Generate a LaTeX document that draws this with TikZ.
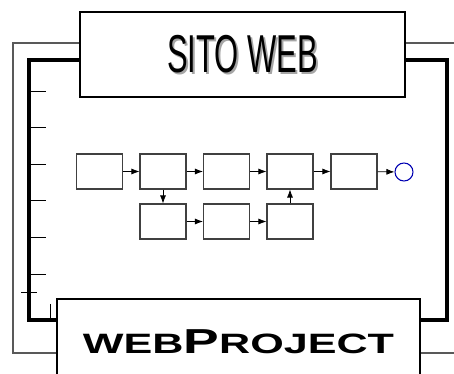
\documentclass[tikz,border=0pt]{standalone}
\usepackage{fontspec}
\setmainfont{Liberation Sans}
\usetikzlibrary{arrows.meta}
\tikzset{box/.style={draw=black!75,line width=0.8pt,minimum width=34.5pt,minimum height=26.25pt,inner sep=0pt},
flow/.style={line width=0.6pt,-{Latex[length=6pt,width=4.5pt]}},
frame/.style={draw,line width=1.6pt,inner sep=0pt}}
\begin{document}
\begin{tikzpicture}[x=0.75pt,y=-0.75pt]
\clip(0,0)rectangle(454,374);
\fill[white](0,0)rectangle(454,374);
\node[frame,fill=white,minimum width=243.75pt,minimum height=63.75pt](site)at(242.5,54.5){};
\node[text=black!35]at(244.5,56.5){\fontsize{40}{40}\selectfont\scalebox{0.58}[1]{SITO WEB}};
\node(sitetext)at(242.5,54.5){\fontsize{40}{40}\selectfont\scalebox{0.58}[1]{SITO WEB}};
\node[frame,fill=white,minimum width=272.25pt,minimum height=63.75pt](proj)at(238.5,341.5){\scalebox{1.54}[1]{\bfseries\fontsize{21}{21}\selectfont WEB\fontsize{26}{26}\selectfont P\fontsize{21}{21}\selectfont ROJECT}};
\draw[line width=1.5pt,color=black!65](site.west|-0,43)-|(13,353)--(proj.west|-0,353);
\draw[line width=1.5pt,color=black!65](site.east|-0,43)--(454,43);
\draw[line width=1.5pt,color=black!65](proj.east|-0,353)--(454,353);
\draw[line width=2.4pt,line join=miter](site.west|-0,60)-|(29,320)--(proj.west|-0,320);
\draw[line width=2.4pt,line join=miter](site.east|-0,60)-|(447,320)--(proj.east|-0,320);
\foreach \y in {91,127,164,200,237,274}\draw[line width=0.7pt](29,\y)--(46,\y);
\draw[line width=0.6pt](21,292)--(37,292);
\draw[line width=0.6pt](50,304)--(50,320);
\node[box](a1)at(99.5,171.5){};
\node[box](a2)at(163,171.5){};
\node[box](a3)at(226.5,171.5){};
\node[box](a4)at(290,171.5){};
\node[box](a5)at(354,171.5){};
\node[box](b1)at(163,221.5){};
\node[box](b2)at(226.5,221.5){};
\node[box](b3)at(290,221.5){};
\node[circle,draw=blue!70!black,line width=0.8pt,minimum size=13.5pt,inner sep=0pt](stop)at(404,172){};
\draw[flow](a1)--(a2);
\draw[flow](a2)--(a3);
\draw[flow](a3)--(a4);
\draw[flow](a4)--(a5);
\draw[flow](a5)--(stop);
\draw[flow](a2)--(b1);
\draw[flow](b1)--(b2);
\draw[flow](b2)--(b3);
\draw[flow](b3)--(a4);
\end{tikzpicture}
\end{document}
